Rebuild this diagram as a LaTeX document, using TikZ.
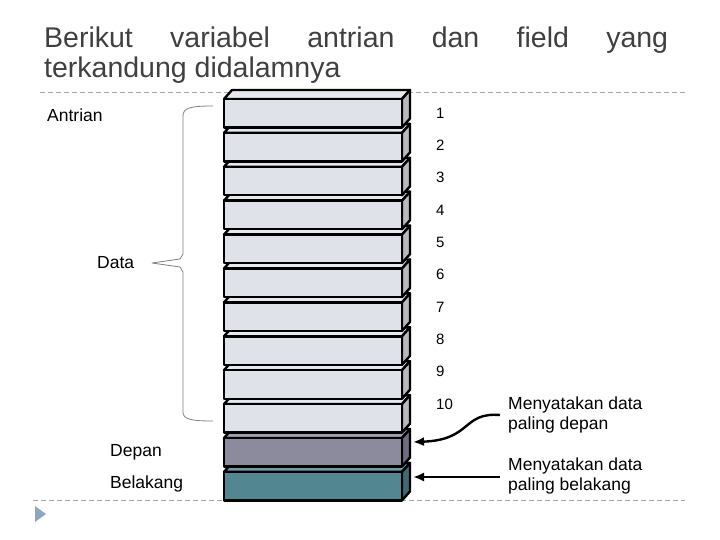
\documentclass[tikz,border=0pt]{standalone}
\usepackage{fontspec}
\setmainfont{Liberation Sans}
\usetikzlibrary{positioning,arrows.meta}

\definecolor{judul}{RGB}{64,64,64}
\definecolor{isiF}{RGB}{224,226,234}
\definecolor{isiS}{RGB}{184,184,190}
\definecolor{isiT}{RGB}{230,232,240}
\definecolor{depanF}{RGB}{140,138,157}
\definecolor{depanS}{RGB}{110,108,128}
\definecolor{depanT}{RGB}{160,158,175}
\definecolor{blkgF}{RGB}{82,135,145}
\definecolor{blkgS}{RGB}{62,106,115}
\definecolor{blkgT}{RGB}{110,156,165}
\definecolor{garis}{RGB}{165,165,165}
\definecolor{kurung}{RGB}{128,128,128}
\definecolor{segitiga}{RGB}{143,165,196}

\begin{document}
\begin{tikzpicture}[x=1pt, y=-1pt, line join=round, >={Latex[length=11pt,width=9pt]},
  sel/.style={draw=black, line width=2.4pt, minimum width=178pt, minimum height=28.5pt, inner sep=0pt, outer sep=0pt},
  muka/.style={draw=black, line width=2.4pt},
  teks/.style={font=\fontsize{17.5}{20}\selectfont, inner sep=0pt},
  nomor/.style={font=\fontsize{15}{18}\selectfont, inner sep=0pt, anchor=west},
  judulteks/.style={anchor=base west, inner sep=0pt, text=judul, font=\fontsize{28.5}{30}\selectfont},
  pemisah/.style={garis, line width=0.8pt, dash pattern=on 5pt off 3pt},
  panah/.style={->, line width=2.4pt}]
  \useasboundingbox (0,0) rectangle (720,540);

  % Front face of one slot, depth of the side faces, spacing
  \def\xa{224} \def\xb{402}
  \def\dx{8} \def\dy{9}
  \def\h{28.5} \def\pitch{33.9}

  % Title
  \node[judulteks] (judul1) at (44,48)
    {\hbox to 624pt{Berikut\hfill variabel\hfill antrian\hfill dan\hfill field\hfill yang}};
  \node[judulteks] (judul2) at (44,78) {terkandung didalamnya};

  % Separator lines and bullet
  \draw[pemisah] (40,92) -- (685,92);
  \draw[pemisah] (33,500) -- (685,500);
  \fill[segitiga] (35,506) -- (46,514) -- (35,522) -- cycle;

  % Slots, drawn from the bottom up so each one covers the top of the one below
  \foreach \i/\f/\s/\t in {11/blkgF/blkgS/blkgT, 10/depanF/depanS/depanT,
      9/isiF/isiS/isiT, 8/isiF/isiS/isiT, 7/isiF/isiS/isiT, 6/isiF/isiS/isiT,
      5/isiF/isiS/isiT, 4/isiF/isiS/isiT, 3/isiF/isiS/isiT, 2/isiF/isiS/isiT,
      1/isiF/isiS/isiT, 0/isiF/isiS/isiT} {
    \pgfmathsetmacro\yt{99+\pitch*\i}
    \pgfmathsetmacro\yb{\yt+\h}
    \filldraw[muka, fill=\t] (\xa,\yt) -- (\xa+\dx,\yt-\dy) -- (\xb+\dx,\yt-\dy) -- (\xb,\yt) -- cycle;
    \filldraw[muka, fill=\s] (\xb,\yt) -- (\xb+\dx,\yt-\dy) -- (\xb+\dx,\yb-\dy) -- (\xb,\yb) -- cycle;
    \node[sel, fill=\f] (slot\i) at ({(\xa+\xb)/2},{\yt+\h/2}) {};
  }

  % Slot numbers
  \foreach \n in {1,...,10}
    \node[nomor] (no\n) at (436,{113+32.35*(\n-1)}) {\n};

  % Labels on the left
  \node[teks, anchor=base west] (antrian) at (47,122) {Antrian};
  \node[teks, anchor=base west] (data) at (97,268) {Data};
  \node[teks, anchor=base west] (depan) at (110,456) {Depan};
  \node[teks, anchor=base west] (belakang) at (110,488) {Belakang};

  % Brace round the data slots
  \draw[kurung, line width=0.8pt]
    (213,106) .. controls (190,106) and (183,108) .. (183,116) -- (183,254)
    -- (180,259) -- (152,263) -- (180,267) -- (183,272) -- (183,412)
    .. controls (183,419) and (190,421) .. (213,421);

  % Notes on the right and their arrows
  \node[teks, anchor=west, align=left, inner xsep=8pt] (ketdepan) at (500,415)
    {Menyatakan data\\paling depan};
  \node[teks, anchor=west, align=left, inner xsep=8pt] (ketblkg) at (500,476)
    {Menyatakan data\\paling belakang};
  \coordinate (ujungdepan) at (413,442);
  \coordinate (ujungblkg) at (413,477);
  \draw[panah] (ketdepan.west) .. controls (462,412) and (472,440) .. (ujungdepan);
  \draw[panah] (ketblkg.west |- ujungblkg) -- (ujungblkg);
\end{tikzpicture}
\end{document}
